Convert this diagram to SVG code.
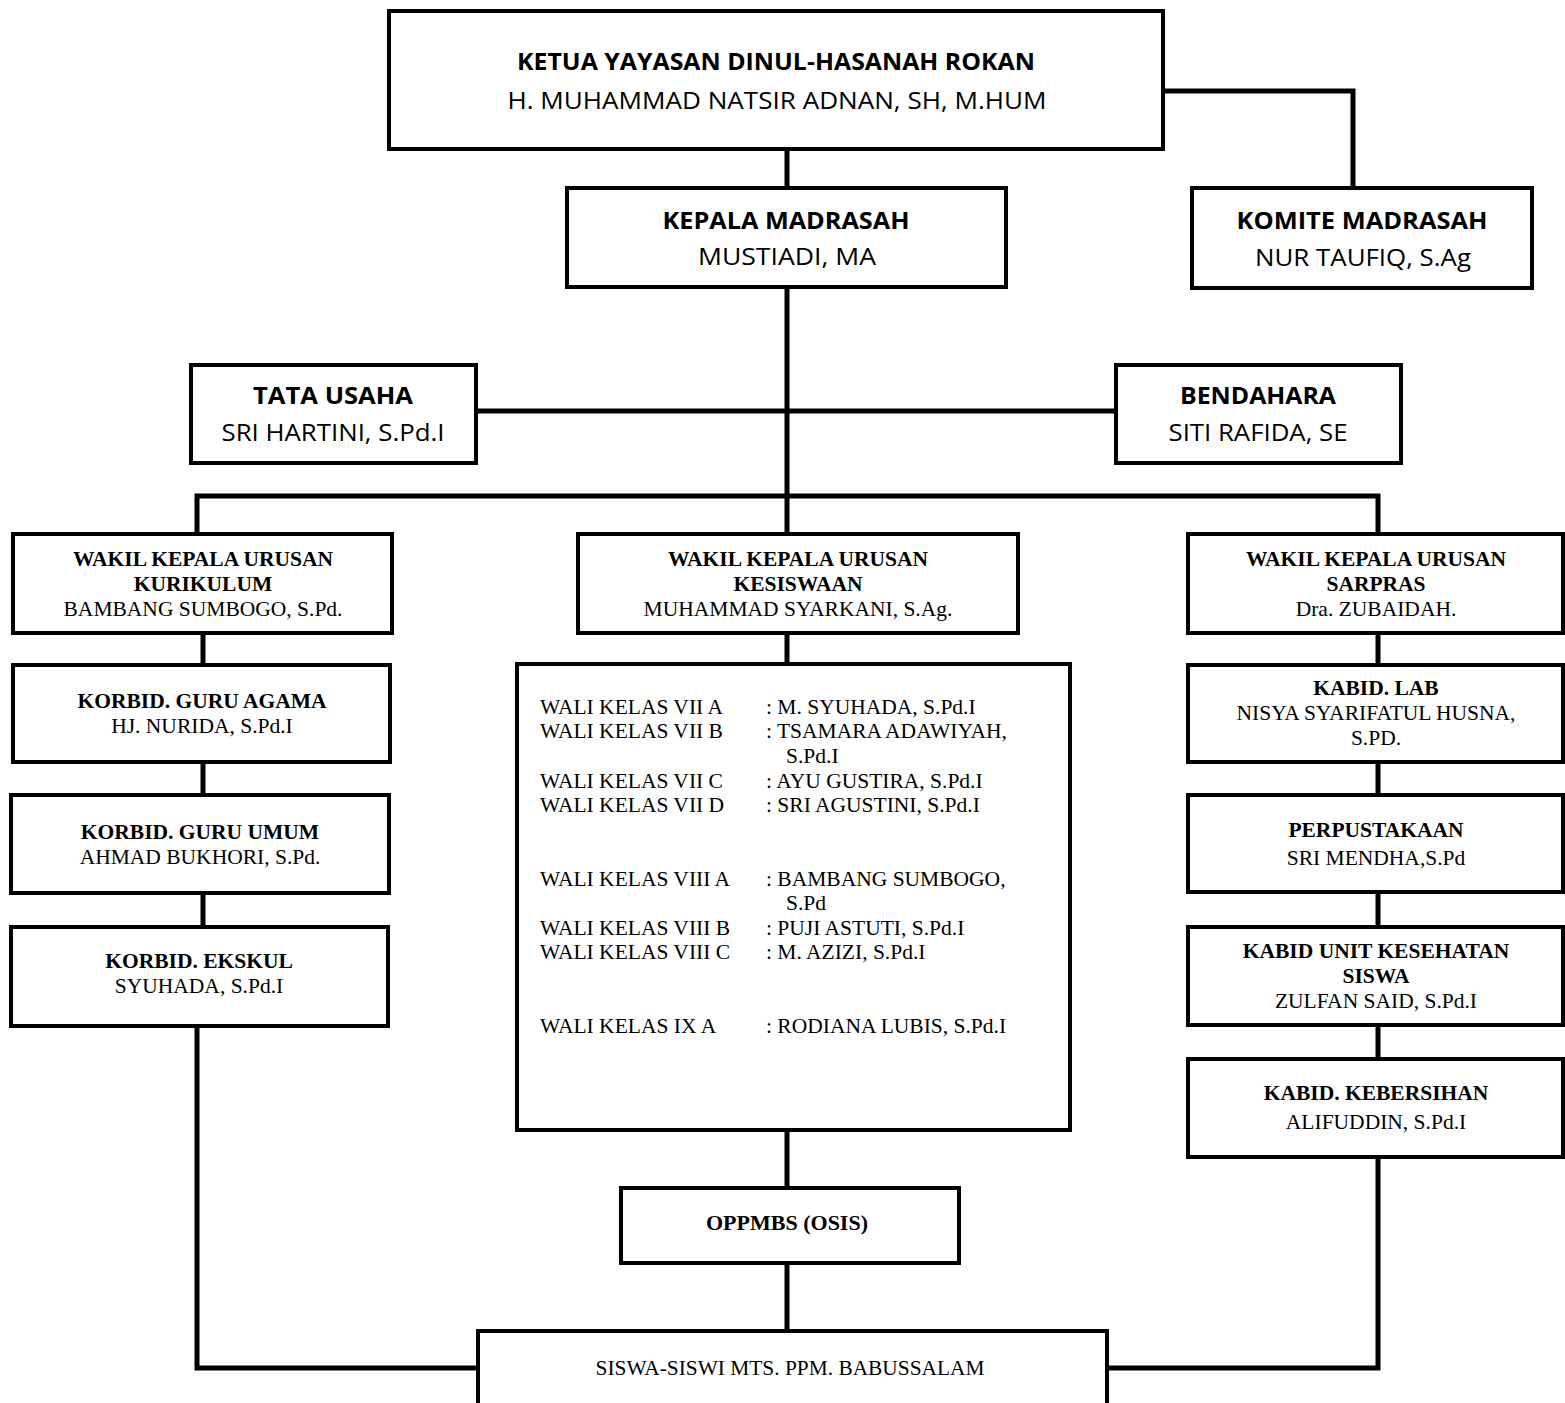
<svg xmlns="http://www.w3.org/2000/svg" width="1565" height="1403" viewBox="0 0 1565 1403">
<style>
.box{fill:#fff;stroke:#000;stroke-width:4}
.ln{fill:none;stroke:#000;stroke-width:5;stroke-linecap:square}
.cb{font-family:"Open Sans","Noto Sans",sans-serif;font-weight:bold;font-size:23px;text-anchor:middle;fill:#000}
.cr{font-family:"Open Sans","Noto Sans",sans-serif;font-size:23px;text-anchor:middle;fill:#000}
.tb{font-family:"Liberation Serif","Times New Roman",serif;font-weight:bold;font-size:21.5px;text-anchor:middle;fill:#000}
.tr{font-family:"Liberation Serif","Times New Roman",serif;font-size:21.5px;text-anchor:middle;fill:#000}
.tl{font-family:"Liberation Serif","Times New Roman",serif;font-size:21.5px;fill:#000}
</style>
<rect width="1565" height="1403" fill="#fff"/>
<g id="connectors">
<polyline class="ln" points="1163,91 1353,91 1353,188"/>
<line class="ln" x1="787" y1="149" x2="787" y2="188"/>
<line class="ln" x1="787" y1="287" x2="787" y2="533"/>
<line class="ln" x1="476" y1="411" x2="1115" y2="411"/>
<polyline class="ln" points="197,533 197,496 1378,496 1378,533"/>
<line class="ln" x1="203" y1="633" x2="203" y2="664"/>
<line class="ln" x1="203" y1="762" x2="203" y2="794"/>
<line class="ln" x1="203" y1="893" x2="203" y2="926"/>
<polyline class="ln" points="197,1027 197,1368 477,1368"/>
<line class="ln" x1="787" y1="633" x2="787" y2="663"/>
<line class="ln" x1="787" y1="1130" x2="787" y2="1187"/>
<line class="ln" x1="787" y1="1263" x2="787" y2="1330"/>
<polyline class="ln" points="1107,1368 1378,1368 1378,1157"/>
<line class="ln" x1="1378" y1="633" x2="1378" y2="664"/>
<line class="ln" x1="1378" y1="762" x2="1378" y2="794"/>
<line class="ln" x1="1378" y1="892" x2="1378" y2="926"/>
<line class="ln" x1="1378" y1="1025" x2="1378" y2="1058"/>
</g>
<g id="ketua">
<rect class="box" x="389" y="11" width="774" height="138"/>
<text class="cb" x="776" y="70" textLength="518" lengthAdjust="spacingAndGlyphs">KETUA YAYASAN DINUL-HASANAH ROKAN</text>
<text class="cr" x="777" y="109" textLength="539" lengthAdjust="spacingAndGlyphs">H. MUHAMMAD NATSIR ADNAN, SH, M.HUM</text>
</g>
<g id="kepala">
<rect class="box" x="567" y="188" width="439" height="99"/>
<text class="cb" x="786" y="229" textLength="247" lengthAdjust="spacingAndGlyphs">KEPALA MADRASAH</text>
<text class="cr" x="787" y="265" textLength="178" lengthAdjust="spacingAndGlyphs">MUSTIADI, MA</text>
</g>
<g id="komite">
<rect class="box" x="1192" y="188" width="340" height="100"/>
<text class="cb" x="1362" y="229" textLength="251" lengthAdjust="spacingAndGlyphs">KOMITE MADRASAH</text>
<text class="cr" x="1363" y="266" textLength="216" lengthAdjust="spacingAndGlyphs">NUR TAUFIQ, S.Ag</text>
</g>
<g id="tatausaha">
<rect class="box" x="191" y="365" width="285" height="98"/>
<text class="cb" x="333" y="404" textLength="160" lengthAdjust="spacingAndGlyphs">TATA USAHA</text>
<text class="cr" x="333" y="441" textLength="223" lengthAdjust="spacingAndGlyphs">SRI HARTINI, S.Pd.I</text>
</g>
<g id="bendahara">
<rect class="box" x="1116" y="365" width="285" height="98"/>
<text class="cb" x="1258" y="404" textLength="156" lengthAdjust="spacingAndGlyphs">BENDAHARA</text>
<text class="cr" x="1258" y="441" textLength="179" lengthAdjust="spacingAndGlyphs">SITI RAFIDA, SE</text>
</g>
<g id="wakakurikulum">
<rect class="box" x="13" y="534" width="379" height="99"/>
<text class="tb" x="203" y="566">WAKIL KEPALA URUSAN</text>
<text class="tb" x="203" y="591">KURIKULUM</text>
<text class="tr" x="203" y="616">BAMBANG SUMBOGO, S.Pd.</text>
</g>
<g id="wakakesiswaan">
<rect class="box" x="578" y="534" width="440" height="99"/>
<text class="tb" x="798" y="566">WAKIL KEPALA URUSAN</text>
<text class="tb" x="798" y="591">KESISWAAN</text>
<text class="tr" x="798" y="616">MUHAMMAD SYARKANI, S.Ag.</text>
</g>
<g id="wakasarpras">
<rect class="box" x="1188" y="534" width="375" height="99"/>
<text class="tb" x="1376" y="566">WAKIL KEPALA URUSAN</text>
<text class="tb" x="1376" y="591">SARPRAS</text>
<text class="tr" x="1376" y="616">Dra. ZUBAIDAH.</text>
</g>
<g id="korbidagama">
<rect class="box" x="13" y="665" width="377" height="97"/>
<text class="tb" x="202" y="708">KORBID. GURU AGAMA</text>
<text class="tr" x="202" y="733">HJ. NURIDA, S.Pd.I</text>
</g>
<g id="korbidumum">
<rect class="box" x="11" y="795" width="378" height="98"/>
<text class="tb" x="200" y="839">KORBID. GURU UMUM</text>
<text class="tr" x="200" y="864">AHMAD BUKHORI, S.Pd.</text>
</g>
<g id="korbidekskul">
<rect class="box" x="11" y="927" width="377" height="99"/>
<text class="tb" x="199" y="968">KORBID. EKSKUL</text>
<text class="tr" x="199" y="993">SYUHADA, S.Pd.I</text>
</g>
<g id="walikelas">
<rect class="box" x="517" y="664" width="553" height="466"/>
<text class="tl" x="540" y="714">WALI KELAS VII A</text>
<text class="tl" x="766" y="714">: M. SYUHADA, S.Pd.I</text>
<text class="tl" x="540" y="738">WALI KELAS VII B</text>
<text class="tl" x="766" y="738">: TSAMARA ADAWIYAH,</text>
<text class="tl" x="786" y="763">S.Pd.I</text>
<text class="tl" x="540" y="788">WALI KELAS VII C</text>
<text class="tl" x="766" y="788">: AYU GUSTIRA, S.Pd.I</text>
<text class="tl" x="540" y="812">WALI KELAS VII D</text>
<text class="tl" x="766" y="812">: SRI AGUSTINI, S.Pd.I</text>
<text class="tl" x="540" y="886">WALI KELAS VIII A</text>
<text class="tl" x="766" y="886">: BAMBANG SUMBOGO,</text>
<text class="tl" x="786" y="910">S.Pd</text>
<text class="tl" x="540" y="935">WALI KELAS VIII B</text>
<text class="tl" x="766" y="935">: PUJI ASTUTI, S.Pd.I</text>
<text class="tl" x="540" y="959">WALI KELAS VIII C</text>
<text class="tl" x="766" y="959">: M. AZIZI, S.Pd.I</text>
<text class="tl" x="540" y="1033">WALI KELAS IX A</text>
<text class="tl" x="766" y="1033">: RODIANA LUBIS, S.Pd.I</text>
</g>
<g id="kabidlab">
<rect class="box" x="1188" y="665" width="375" height="97"/>
<text class="tb" x="1376" y="695">KABID. LAB</text>
<text class="tr" x="1376" y="720">NISYA SYARIFATUL HUSNA,</text>
<text class="tr" x="1376" y="745">S.PD.</text>
</g>
<g id="perpustakaan">
<rect class="box" x="1188" y="795" width="375" height="97"/>
<text class="tb" x="1376" y="837">PERPUSTAKAAN</text>
<text class="tr" x="1376" y="865">SRI MENDHA,S.Pd</text>
</g>
<g id="kesehatan">
<rect class="box" x="1188" y="927" width="375" height="98"/>
<text class="tb" x="1376" y="958">KABID UNIT KESEHATAN</text>
<text class="tb" x="1376" y="983">SISWA</text>
<text class="tr" x="1376" y="1008">ZULFAN SAID, S.Pd.I</text>
</g>
<g id="kebersihan">
<rect class="box" x="1188" y="1059" width="375" height="98"/>
<text class="tb" x="1376" y="1100">KABID. KEBERSIHAN</text>
<text class="tr" x="1376" y="1129">ALIFUDDIN, S.Pd.I</text>
</g>
<g id="osis">
<rect class="box" x="621" y="1188" width="338" height="75"/>
<text class="tb" x="787" y="1230" textLength="162" lengthAdjust="spacingAndGlyphs">OPPMBS (OSIS)</text>
</g>
<g id="siswa">
<rect class="box" x="478" y="1331" width="629" height="90"/>
<text class="tr" x="790" y="1375" textLength="389" lengthAdjust="spacingAndGlyphs">SISWA-SISWI MTS. PPM. BABUSSALAM</text>
</g>
</svg>
